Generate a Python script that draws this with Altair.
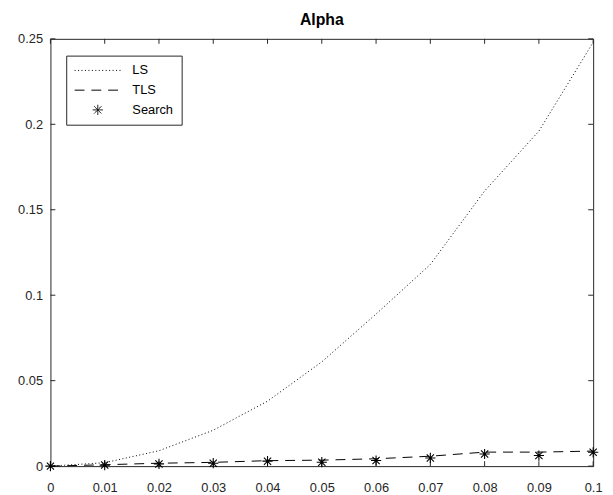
import altair as alt
import pandas as pd

# ---- data ----
alpha = [0.0, 0.01, 0.02, 0.03, 0.04, 0.05, 0.06, 0.07, 0.08, 0.09, 0.1]
ls_vals = [0.0, 0.002, 0.009, 0.021, 0.038, 0.061, 0.089, 0.118, 0.161, 0.196, 0.248]
tls_vals = [0.0, 0.0008, 0.0017, 0.0022, 0.0032, 0.0035, 0.0043, 0.0058, 0.0082, 0.0082, 0.0088]
search_vals = [0.0, 0.0006, 0.0013, 0.0017, 0.0029, 0.0023, 0.0033, 0.0048, 0.0071, 0.0062, 0.0081]

series_names = ["LS", "TLS", "Search"]
x_ticks = [0.0, 0.01, 0.02, 0.03, 0.04, 0.05, 0.06, 0.07, 0.08, 0.09, 0.1]
y_ticks = [0.0, 0.05, 0.1, 0.15, 0.2, 0.25]

W, H = 550, 433
FONT = "Liberation Sans"
AX = "#262626"
TICK = 5

lines_df = pd.DataFrame(
    [{"alpha": a, "value": v, "series": "LS"} for a, v in zip(alpha, ls_vals)]
    + [{"alpha": a, "value": v, "series": "TLS"} for a, v in zip(alpha, tls_vals)]
)
points_df = pd.DataFrame({"alpha": alpha, "value": search_vals, "series": ["Search"] * len(alpha)})
xt_df = pd.DataFrame({"t": x_ticks})
yt_df = pd.DataFrame({"t": y_ticks})

SYM = 2209  # symbol area -> 47 px wide line symbols
r = 0.22
d = round(r * 0.7071, 4)
star = (f"M{-r},0L{r},0M0,{-r}L0,{r}"
        f"M{-d},{-d}L{d},{d}M{-d},{d}L{d},{-d}")
line_sym = "M-1,0L1,0"

legend_props = dict(
    orient="none", legendX=16, legendY=17, title=None,
    symbolSize=SYM, clipHeight=14, rowPadding=6, labelOffset=11,
    padding=8, fillColor="white", strokeColor=AX,
    labelFont=FONT, labelFontSize=13, labelColor="black",
    symbolStrokeColor="black", symbolStrokeWidth=1,
    symbolFillColor="transparent",
)

xscale = alt.Scale(domain=[0, 0.1], nice=False, zero=False)
yscale = alt.Scale(domain=[0, 0.25], nice=False, zero=False)

xaxis = alt.Axis(values=x_ticks, format="~g", title=None, labelFlush=False,
                 labelOverlap=False, labelPadding=16, grid=False, ticks=False,
                 domain=False)
yaxis = alt.Axis(values=y_ticks, format="~g", title=None, labelPadding=8,
                 grid=False, ticks=False, domain=False)

lines = alt.Chart(lines_df).mark_line(color="black", strokeWidth=1).encode(
    x=alt.X("alpha:Q", scale=xscale, axis=xaxis),
    y=alt.Y("value:Q", scale=yscale, axis=yaxis),
    strokeDash=alt.StrokeDash(
        "series:N",
        scale=alt.Scale(domain=series_names, range=[[1, 2.5], [10, 7], [1, 0]]),
        legend=alt.Legend(**legend_props),
    ),
    detail="series:N",
)

points = alt.Chart(points_df).mark_point(filled=False, color="black", strokeWidth=1.1,
                                         size=SYM, opacity=1).encode(
    x=alt.X("alpha:Q", scale=xscale, axis=xaxis),
    y=alt.Y("value:Q", scale=yscale, axis=yaxis),
    shape=alt.Shape(
        "series:N",
        scale=alt.Scale(domain=series_names, range=[line_sym, line_sym, star]),
        legend=alt.Legend(**legend_props),
    ),
)

xb = alt.Chart(xt_df).mark_rule(color=AX, strokeWidth=1).encode(
    x=alt.X("t:Q", scale=xscale, axis=xaxis), y=alt.value(H), y2=alt.value(H - TICK))
xt = alt.Chart(xt_df).mark_rule(color=AX, strokeWidth=1).encode(
    x=alt.X("t:Q", scale=xscale, axis=xaxis), y=alt.value(0), y2=alt.value(TICK))
yl = alt.Chart(yt_df).mark_rule(color=AX, strokeWidth=1).encode(
    y=alt.Y("t:Q", scale=yscale, axis=yaxis), x=alt.value(0), x2=alt.value(TICK))
yr = alt.Chart(yt_df).mark_rule(color=AX, strokeWidth=1).encode(
    y=alt.Y("t:Q", scale=yscale, axis=yaxis), x=alt.value(W), x2=alt.value(W - TICK))

chart = alt.layer(xb, xt, yl, yr, lines, points).properties(
    width=W, height=H,
    title=alt.TitleParams("Alpha", font=FONT, fontSize=16, fontWeight="bold",
                          color="black", anchor="middle", offset=5),
    autosize=alt.AutoSizeParams(type="none"),
    padding={"left": 43, "top": 28, "right": 12, "bottom": 26},
).configure(
    background="white"
).configure_view(
    stroke=AX, strokeWidth=1
).configure_axis(
    domain=False, ticks=False, grid=False,
    labelFont=FONT, labelFontSize=13, labelColor=AX,
)

chart.save("out.html", embed_options={"renderer": "svg", "actions": False})
